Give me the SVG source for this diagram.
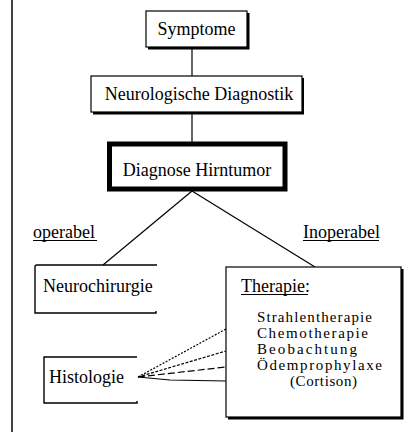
<svg xmlns="http://www.w3.org/2000/svg" width="412" height="432" viewBox="0 0 412 432">
<style>
text{font-family:"Liberation Serif","Times New Roman",serif;font-size:18px;fill:#000}
.it{font-size:15px}
.box{fill:#fff;stroke:#000;stroke-width:1.2}
.sh{fill:#000}
.ln{stroke:#000;stroke-width:1.2;fill:none}
.open{stroke:#000;stroke-width:1.4;fill:none}
</style>
<rect width="412" height="432" fill="#fff"/>
<line x1="12" y1="0" x2="12" y2="432" stroke="#000" stroke-width="1.5"/>
<g id="connectors">
<line class="ln" x1="192" y1="48" x2="192" y2="76"/>
<line class="ln" x1="192" y1="113" x2="192" y2="142"/>
<line class="ln" x1="192" y1="191" x2="103" y2="265"/>
<line class="ln" x1="192" y1="191" x2="315" y2="267"/>
<line class="ln" x1="138" y1="377" x2="226" y2="329" stroke-dasharray="2 1.5"/>
<line class="ln" x1="138" y1="377" x2="226" y2="351" stroke-dasharray="3 1.5"/>
<line class="ln" x1="138" y1="377" x2="226" y2="367" stroke-dasharray="7 3"/>
<polyline class="ln" points="138,377 170,380 226,381"/>
</g>
<g id="symptome">
<rect class="sh" x="148" y="13" width="101.5" height="36.5"/>
<rect class="box" x="146" y="11" width="101" height="36"/>
<text x="196.5" y="35" text-anchor="middle">Symptome</text>
</g>
<g id="neuro-diagnostik">
<rect class="sh" x="93" y="78" width="211" height="36.5"/>
<rect class="box" x="91" y="76" width="211" height="36"/>
<text x="199" y="100" text-anchor="middle">Neurologische Diagnostik</text>
</g>
<g id="diagnose">
<rect x="109.5" y="144" width="175.5" height="45" fill="#fff" stroke="#000" stroke-width="5"/>
<text x="197" y="176" text-anchor="middle">Diagnose Hirntumor</text>
</g>
<g id="label-operabel">
<text x="33" y="238">operabel</text>
<line x1="33" y1="240.5" x2="97" y2="240.5" stroke="#000" stroke-width="1"/>
</g>
<g id="label-inoperabel">
<text x="303" y="238">Inoperabel</text>
<line x1="303" y1="240.5" x2="379" y2="240.5" stroke="#000" stroke-width="1"/>
</g>
<g id="neurochirurgie">
<path class="open" d="M157,265 H37 Q35,265 35,267 V313 H156 V311"/>
<text x="43" y="292">Neurochirurgie</text>
</g>
<g id="therapie">
<rect class="sh" x="228" y="269" width="175.5" height="150.5"/>
<rect class="box" x="226" y="267" width="175" height="150"/>
<text x="241" y="292">Therapie:</text>
<line x1="241" y1="294.5" x2="308" y2="294.5" stroke="#000" stroke-width="1"/>
<text class="it" x="257" y="322" textLength="115" lengthAdjust="spacing">Strahlentherapie</text>
<text class="it" x="257" y="338" textLength="111" lengthAdjust="spacing">Chemotherapie</text>
<text class="it" x="257" y="354" textLength="100" lengthAdjust="spacing">Beobachtung</text>
<text class="it" x="257" y="370" textLength="125" lengthAdjust="spacing">Ödemprophylaxe</text>
<text class="it" x="290" y="386" textLength="67" lengthAdjust="spacing">(Cortison)</text>
</g>
<g id="histologie">
<path class="open" d="M137,357 H44 V403 H137 V401"/>
<text x="49" y="383">Histologie</text>
</g>
</svg>
